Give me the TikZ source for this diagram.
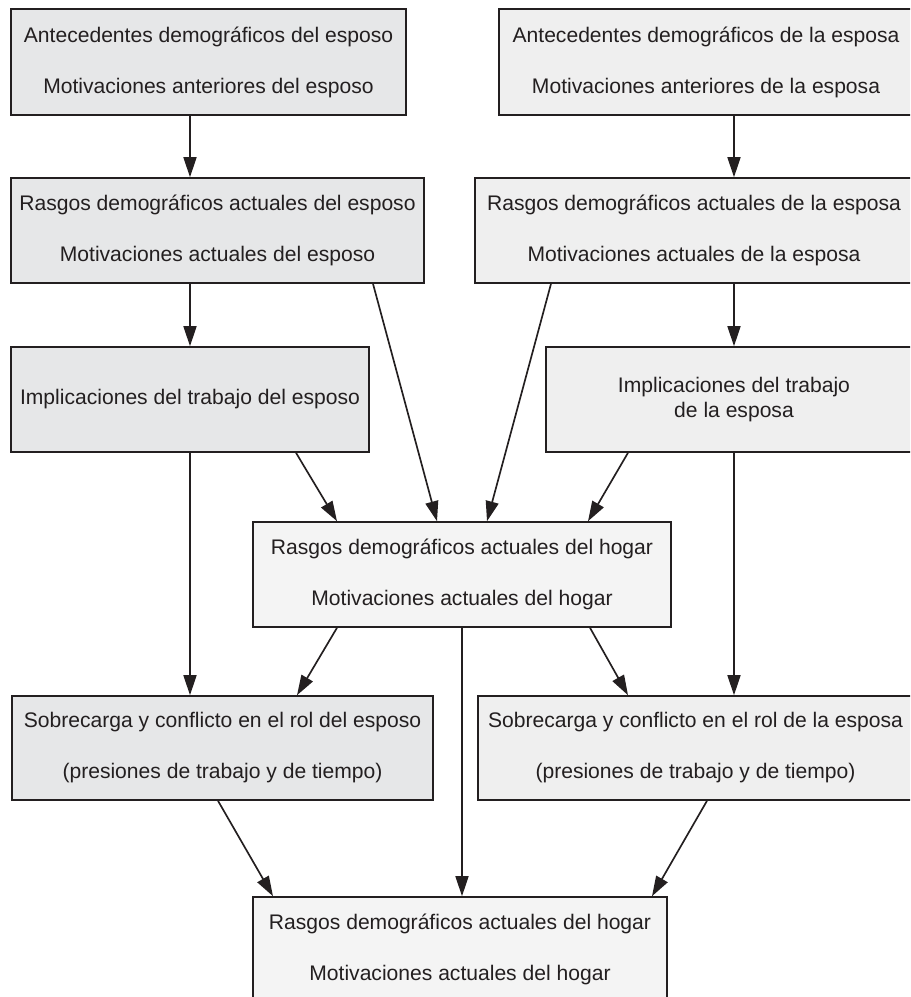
\documentclass[tikz,border=0pt]{standalone}
\usepackage{fontspec}
\setmainfont{Liberation Sans}
\usetikzlibrary{arrows.meta,calc}

\definecolor{tinta}{HTML}{231F20}
\definecolor{esposo}{HTML}{E6E7E8}
\definecolor{esposa}{HTML}{EFEFEF}
\definecolor{hogar}{HTML}{F4F4F4}

\tikzset{
  caja/.style={draw=tinta, line width=0.9pt, text=tinta, align=center, inner sep=0pt,
    font=\fontsize{12}{14}\selectfont},
  flecha/.style={draw=tinta, line width=0.95pt, -{Triangle[length=0.4cm,width=0.26cm]}}
}

\begin{document}
\begin{tikzpicture}[x=0.02cm, y=-0.02cm]
    \useasboundingbox (0,0) rectangle (910,997);
    \clip (0,0) rectangle (910,997);

    % Cajas del esposo
    \node[caja, fill=esposo, minimum width=7.9cm, minimum height=2.12cm] (espA) at (208.5,62)
        {Antecedentes demográficos del esposo\\[15pt]Motivaciones anteriores del esposo};
    \node[caja, fill=esposo, minimum width=8.26cm, minimum height=2.1cm] (espR) at (217.5,230.5)
        {Rasgos demográficos actuales del esposo\\[15pt]Motivaciones actuales del esposo};
    \node[caja, fill=esposo, minimum width=7.16cm, minimum height=2.1cm] (espI) at (190,399.5)
        {Implicaciones del trabajo del esposo};
    \node[caja, fill=esposo, minimum width=8.42cm, minimum height=2.08cm] (espS) at (222.5,748)
        {Sobrecarga y conflicto en el rol del esposo\\[15pt](presiones de trabajo y de tiempo)};

    % Cajas de la esposa
    \node[caja, fill=esposa, minimum width=8.28cm, minimum height=2.12cm] (esaA) at (706,62)
        {Antecedentes demográficos de la esposa\\[15pt]Motivaciones anteriores de la esposa};
    \node[caja, fill=esposa, minimum width=8.76cm, minimum height=2.1cm] (esaR) at (694,230.5)
        {Rasgos demográficos actuales de la esposa\\[15pt]Motivaciones actuales de la esposa};
    \node[caja, fill=esposa, minimum width=7.52cm, minimum height=2.1cm] (esaI) at (734,399.5)
        {Implicaciones del trabajo\\de la esposa};
    \node[caja, fill=esposa, minimum width=8.7cm, minimum height=2.08cm] (esaS) at (695.5,748)
        {Sobrecarga y conflicto en el rol de la esposa\\[15pt](presiones de trabajo y de tiempo)};

    % Cajas del hogar
    \node[caja, fill=hogar, minimum width=8.36cm, minimum height=2.1cm] (hogA) at (462,574.5)
        {Rasgos demográficos actuales del hogar\\[15pt]Motivaciones actuales del hogar};
    \node[caja, fill=hogar, minimum width=8.28cm, minimum height=2.1cm] (hogB) at (460,949.5)
        {Rasgos demográficos actuales del hogar\\[15pt]Motivaciones actuales del hogar};

    % Flechas verticales
    \draw[flecha] (espA.south -| espI) -- (espR.north -| espI);
    \draw[flecha] (espR.south -| espI) -- (espI.north);
    \draw[flecha] (espI.south) -- (espS.north -| espI);
    \draw[flecha] (esaA.south -| esaI) -- (esaR.north -| esaI);
    \draw[flecha] (esaR.south -| esaI) -- (esaI.north);
    \draw[flecha] (esaI.south) -- (esaS.north -| esaI);
    \draw[flecha] (hogA.south) -- (hogA.south |- hogB.north);

    % Flechas hacia el hogar
    \draw[flecha] ($(espR.south)+(155.5,0)$) -- ($(hogA.north)+(-25,0)$);
    \draw[flecha] ($(esaR.south)+(-143,0)$) -- ($(hogA.north)+(25,0)$);
    \draw[flecha] ($(espI.south)+(106,0)$) -- ($(hogA.north)+(-125,0)$);
    \draw[flecha] ($(esaI.south)+(-106,0)$) -- ($(hogA.north)+(126,0)$);

    % Flechas hacia la sobrecarga
    \draw[flecha] ($(hogA.south)+(-125,0)$) -- ($(espS.north)+(74.5,0)$);
    \draw[flecha] ($(hogA.south)+(128,0)$) -- ($(esaS.north)+(-67.5,0)$);

    % Flechas hacia el hogar de abajo
    \draw[flecha] ($(espS.south)+(-4.5,0)$) -- ($(hogB.north)+(-187,0)$);
    \draw[flecha] ($(esaS.south)+(11.5,0)$) -- ($(hogB.north)+(192,0)$);
\end{tikzpicture}
\end{document}
